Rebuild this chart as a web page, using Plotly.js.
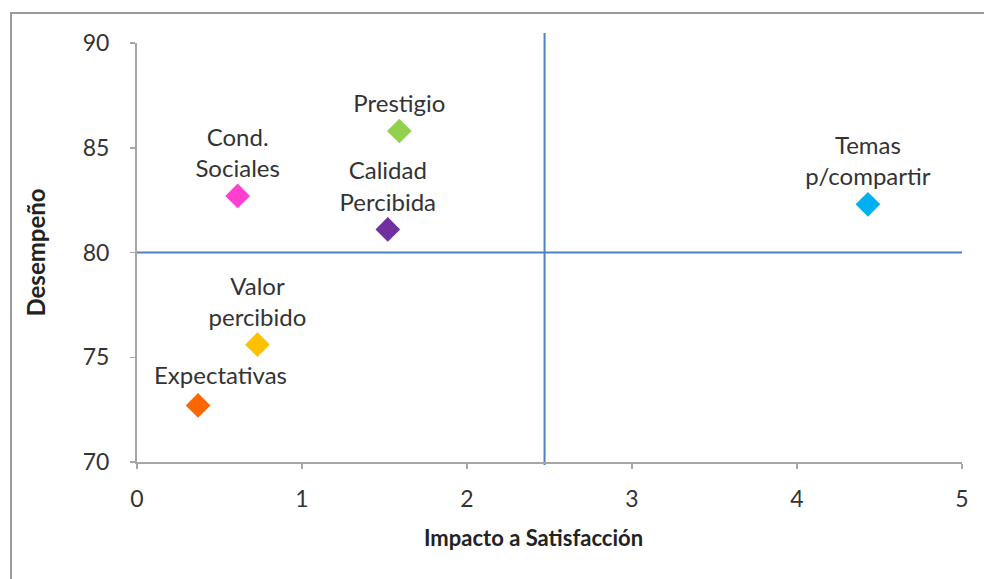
<!DOCTYPE html>
<html>
<head>
<meta charset="utf-8">
<script src="https://cdn.plot.ly/plotly-3.0.1.min.js"></script>
<style>
  html, body { margin: 0; padding: 0; background: #fff; }
  #wrap { position: relative; width: 984px; height: 579px; overflow: hidden; }
  #frame { position: absolute; left: 10px; top: 12px; width: 990px; height: 600px;
           border-left: 2px solid #9a9a9a; border-top: 2px solid #9a9a9a; pointer-events: none; }
  #chart { position: absolute; left: 0; top: 0; width: 984px; height: 579px; }
</style>
</head>
<body>
<div id="wrap">
  <div id="chart"></div>
  <div id="frame"></div>
</div>
<script>
const labels = ["Prestigio", "Cond.<br>Sociales", "Calidad<br>Percibida", "Temas<br>p/compartir", "Valor<br>percibido", "Expectativas"];
const impacto = [1.59, 0.61, 1.52, 4.43, 0.73, 0.37];
const desempeno = [85.8, 82.7, 81.1, 82.3, 75.6, 72.7];
const colors = ["#92D050", "#FF3FCF", "#7030A0", "#00B0F0", "#FFC000", "#FF6600"];
const quadrantX = [2.47];
const quadrantY = [80];
const xTicks = [0, 1, 2, 3, 4, 5];
const yTicks = [70, 75, 80, 85, 90];
const xTitle = "Impacto a Satisfacción";
const yTitle = "Desempeño";

const FONT = "Lato, 'Noto Sans', sans-serif";
const TEXT = "#333333";

// The last label (Expectativas) sits shifted to the right of its marker in the original.
const shifted = labels.length - 1;
const traceText = labels.map((t, i) => (i === shifted ? "" : t));

const trace = {
  type: "scatter",
  mode: "markers+text",
  x: impacto,
  y: desempeno,
  text: traceText,
  textposition: "top center",
  textfont: { family: FONT, size: 24, color: TEXT },
  marker: { symbol: "diamond", size: 19, color: colors, line: { width: 0 } },
  cliponaxis: false,
  hoverinfo: "x+y"
};

const axisLine = "#a6a6a6";
const layout = {
  width: 984,
  height: 579,
  margin: { l: 137, r: 22, t: 43, b: 117 },
  paper_bgcolor: "#ffffff",
  plot_bgcolor: "#ffffff",
  showlegend: false,
  font: { family: FONT, color: TEXT },
  xaxis: {
    range: [0, 5],
    tickvals: xTicks,
    ticktext: xTicks.map(String),
    showgrid: false,
    zeroline: false,
    showline: true,
    linecolor: axisLine,
    linewidth: 2,
    ticks: "outside",
    ticklen: 5,
    tickwidth: 1.5,
    tickcolor: axisLine,
    ticklabelstandoff: 10,
    tickfont: { family: FONT, size: 23, color: TEXT },
    fixedrange: true
  },
  yaxis: {
    range: [70, 90],
    tickvals: yTicks,
    ticktext: yTicks.map(String),
    showgrid: false,
    zeroline: false,
    showline: true,
    linecolor: axisLine,
    linewidth: 2,
    ticks: "outside",
    ticklen: 5,
    tickwidth: 1.5,
    tickcolor: axisLine,
    ticklabelstandoff: 16,
    tickfont: { family: FONT, size: 23, color: TEXT },
    title: { text: "<b>" + yTitle + "</b>", font: { family: FONT, size: 24, color: "#222222" }, standoff: 30 },
    fixedrange: true
  },
  annotations: [
    { x: impacto[shifted], y: desempeno[shifted], xref: "x", yref: "y",
      text: labels[shifted], showarrow: false, xanchor: "center", yanchor: "bottom",
      xshift: 22, yshift: 14, font: { family: FONT, size: 24, color: TEXT } },
    { x: 0.481, y: 0, xref: "paper", yref: "paper", yanchor: "middle", xanchor: "center",
      yshift: -75, text: "<b>" + xTitle + "</b>", showarrow: false,
      font: { family: FONT, size: 22, color: "#222222" } }
  ],
  shapes: [
    { type: "line", xref: "x", yref: "paper", x0: quadrantX[0], x1: quadrantX[0], y0: -0.007, y1: 1.024,
      line: { color: "#4F81BD", width: 2 }, layer: "below" },
    { type: "line", xref: "paper", yref: "y", x0: 0, x1: 1, y0: quadrantY[0], y1: quadrantY[0],
      line: { color: "#4F81BD", width: 2 }, layer: "below" }
  ]
};

Plotly.newPlot("chart", [trace], layout, { displayModeBar: false, staticPlot: true });
</script>
</body>
</html>
